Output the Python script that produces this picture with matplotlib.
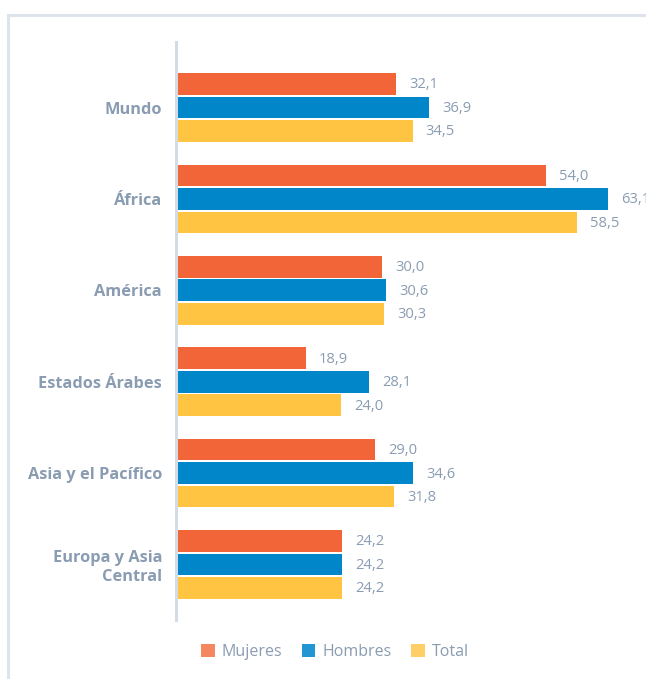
import matplotlib
matplotlib.use("Agg")
import matplotlib.pyplot as plt
from matplotlib.patches import Patch
from matplotlib.lines import Line2D
import numpy as np

plt.rcParams['font.family'] = ['Open Sans', 'DejaVu Sans']

categories = ["Mundo", "África", "América", "Estados Árabes", "Asia y el Pacífico", "Europa y Asia\nCentral"]
mujeres = [32.1, 54.0, 30.0, 18.9, 29.0, 24.2]
hombres = [36.9, 63.1, 30.6, 28.1, 34.6, 24.2]
total = [34.5, 58.5, 30.3, 24.0, 31.8, 24.2]
series_names = ["Mujeres", "Hombres", "Total"]
colors = ["#F26539", "#0086C9", "#FFC542"]
legend_colors = ["#F4875F", "#2196D3", "#FFCE66"]
text_color = "#8A9CB2"

W, H = 646, 679
fig = plt.figure(figsize=(W / 100, H / 100), dpi=100)

# frame lines
fig.add_artist(Line2D([8 / W, 8 / W], [0, 1 - 15 / H], color="#DDE4EC", lw=2.2))
fig.add_artist(Line2D([8 / W, 1], [1 - 15 / H, 1 - 15 / H], color="#DDE4EC", lw=2.2))

ax_left, ax_right = 176, 640
ax_top, ax_bot = 42, 620
ax = fig.add_axes([ax_left / W, 1 - ax_bot / H, (ax_right - ax_left) / W, (ax_bot - ax_top) / H])
ax.patch.set_alpha(0)

px_per_unit = 6.83
ax.set_xlim(-1 / px_per_unit, (ax_right - ax_left - 1) / px_per_unit)
ax.set_ylim(5 + 55.5 / 91.4, -65.5 / 91.4)

y = np.arange(len(categories))
pitch = 0.257
bh = 0.238
for i, (vals, c) in enumerate(zip([mujeres, hombres, total], colors)):
    pos = y + (i - 1) * pitch
    ax.barh(pos, vals, height=bh, color=c, left=0)
    for p, v in zip(pos, vals):
        ax.text(v + 13 / px_per_unit, p + 0.01, f"{v:.1f}".replace(".", ","), va="center", ha="left",
                fontsize=10.6, color=text_color)

ax.set_yticks(y)
ax.set_yticklabels(categories, fontsize=11.8, fontweight="bold", color=text_color, ha="right",
                   linespacing=1.2)
ax.tick_params(axis="y", length=0, pad=10)
ax.set_xticks([])
for s in ["top", "right", "bottom"]:
    ax.spines[s].set_visible(False)
ax.spines["left"].set_color("#D3DBE5")
ax.spines["left"].set_linewidth(2.2)

handles = [Patch(facecolor=c, edgecolor="none") for c in legend_colors]
fig.legend(handles, series_names, loc="center", bbox_to_anchor=(335 / W, 1 - 652 / H), ncol=3,
           frameon=False, fontsize=11.5, labelcolor=text_color, handlelength=0.85, handleheight=0.85,
           handletextpad=0.45, columnspacing=1.2)

fig.savefig("out.png", dpi=100)
